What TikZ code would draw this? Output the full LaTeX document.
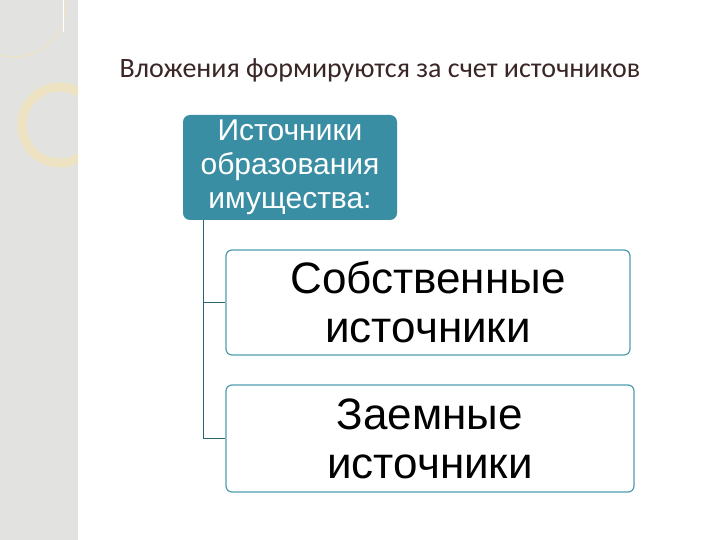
\documentclass[tikz,border=0pt]{standalone}
\usepackage{fontspec}
\setmainfont{Liberation Sans}
\newfontfamily\titlefont{Carlito}
\definecolor{teal1}{HTML}{3A8EA3}
\definecolor{bord}{HTML}{4F9CB0}
\definecolor{strip}{HTML}{E2E2E0}
\definecolor{ringc}{HTML}{EDE2C2}
\definecolor{titc}{HTML}{3B2626}
\begin{document}
\begin{tikzpicture}[x=1pt,y=-1pt,
  sub/.style={draw=bord,line width=1.2pt,rounded corners=6pt,fill=white,align=center,font=\fontsize{44}{49}\selectfont,inner sep=0pt},
  conn/.style={draw=teal1!70!black,line width=1pt}]
\useasboundingbox (0,0) rectangle (720,540);
\fill[white] (0,0) rectangle (720,540);
\fill[strip] (0,0) rectangle (78,540);
\begin{scope}
\clip (0,0) rectangle (78,540);
\draw[ringc,line width=1.2pt] (14,5) circle (52);
\draw[ringc,line width=9pt] (60,125) circle (38);
\draw[white,line width=1pt] (63,0) -- (63,32);
\end{scope}
\node[anchor=west,text=titc,font=\titlefont\fontsize{28}{32}\selectfont] (title) at (116,70) {Вложения формируются за счет источников};
\node[fill=teal1,rounded corners=7pt,text=white,align=center,minimum width=214,minimum height=105,inner sep=0pt,font=\fontsize{30}{34}\selectfont] (top) at (290,167.5) {Источники\\образования\\имущества:};
\node[sub,minimum width=404,minimum height=105] (s1) at (428,302.5) {Собственные\\источники};
\node[sub,minimum width=408,minimum height=107] (s2) at (430,438.5) {Заемные\\источники};
\coordinate (c) at (203,0);
\draw[conn] (top.south -| c) |- (s1.west);
\draw[conn] (top.south -| c) |- (s2.west);
\end{tikzpicture}
\end{document}
